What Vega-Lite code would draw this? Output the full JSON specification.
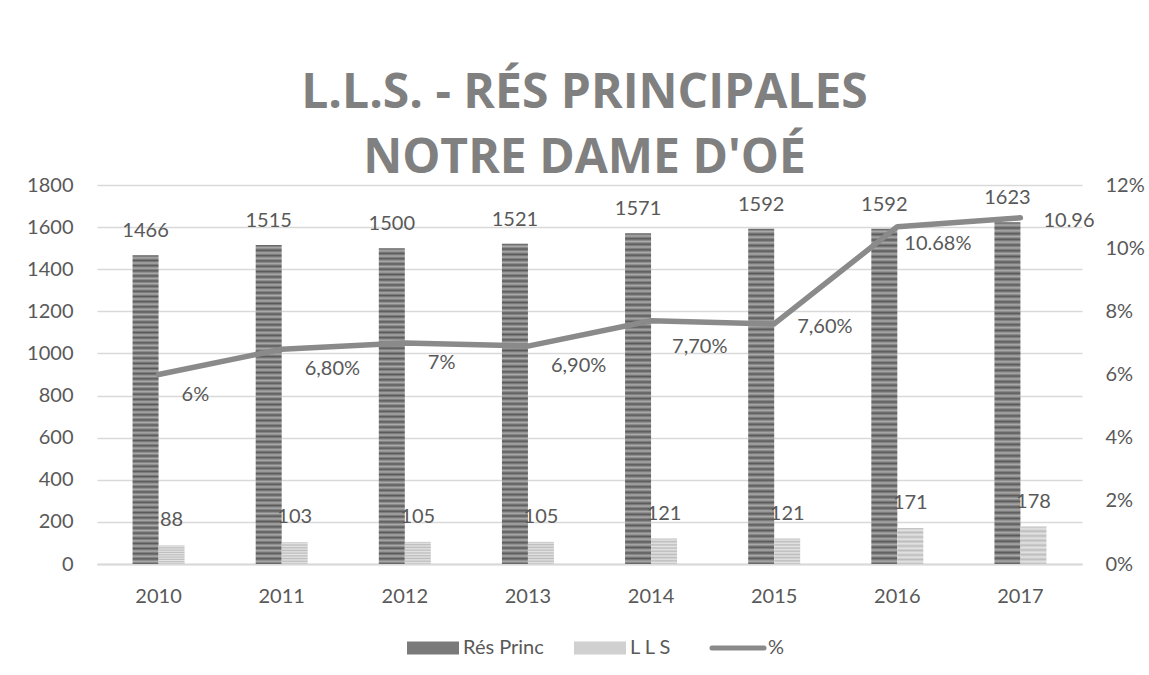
{
  "$schema": "https://vega.github.io/schema/vega-lite/v6.json",
  "width": 985,
  "height": 379,
  "autosize": {"type": "none"},
  "padding": {"left": 97, "top": 185, "right": 67, "bottom": 111},
  "config": {"view": {"stroke": null}, "font": "Lato"},
  "title": {
    "text": ["L.L.S. - RÉS PRINCIPALES", "NOTRE DAME D'OÉ"],
    "fontSize": 48, "font": "Open Sans", "fontWeight": "bold", "color": "#808080",
    "lineHeight": 65, "offset": -8, "anchor": "middle", "frame": "group", "dx": -5
  },
  "datasets": {
    "bars": [
      {"year": "2010", "series": "Rés Princ", "value": 1466},
      {"year": "2011", "series": "Rés Princ", "value": 1515},
      {"year": "2012", "series": "Rés Princ", "value": 1500},
      {"year": "2013", "series": "Rés Princ", "value": 1521},
      {"year": "2014", "series": "Rés Princ", "value": 1571},
      {"year": "2015", "series": "Rés Princ", "value": 1592},
      {"year": "2016", "series": "Rés Princ", "value": 1592},
      {"year": "2017", "series": "Rés Princ", "value": 1623},
      {"year": "2010", "series": "L L S", "value": 88},
      {"year": "2011", "series": "L L S", "value": 103},
      {"year": "2012", "series": "L L S", "value": 105},
      {"year": "2013", "series": "L L S", "value": 105},
      {"year": "2014", "series": "L L S", "value": 121},
      {"year": "2015", "series": "L L S", "value": 121},
      {"year": "2016", "series": "L L S", "value": 171},
      {"year": "2017", "series": "L L S", "value": 178}
    ],
    "pct": [
      {"year": "2010", "pct": 6, "label": "6%"},
      {"year": "2011", "pct": 6.8, "label": "6,80%"},
      {"year": "2012", "pct": 7, "label": "7%"},
      {"year": "2013", "pct": 6.9, "label": "6,90%"},
      {"year": "2014", "pct": 7.7, "label": "7,70%"},
      {"year": "2015", "pct": 7.6, "label": "7,60%"},
      {"year": "2016", "pct": 10.68, "label": "10.68%"},
      {"year": "2017", "pct": 10.96, "label": "10.96"}
    ]
  },
  "encoding": {
    "x": {
      "field": "year", "type": "nominal",
      "scale": {"paddingInner": 0, "paddingOuter": 0},
      "axis": {
        "title": null, "labelAngle": 0, "ticks": false, "grid": false,
        "domain": true, "domainColor": "#d9d9d9", "domainWidth": 2,
        "labelPadding": 22, "labelFontSize": 20, "labelFont": "Lato", "labelColor": "#595959"
      }
    }
  },
  "layer": [
    {
      "data": {"name": "bars"},
      "encoding": {
        "y": {
          "field": "value", "type": "quantitative",
          "scale": {"domain": [0, 1800], "nice": false},
          "axis": {
            "title": null, "orient": "left", "values": [0,200,400,600,800,1000,1200,1400,1600,1800],
            "format": "d",
            "grid": true, "gridColor": "#d9d9d9", "gridWidth": 1.3, "domain": false, "ticks": false,
            "labelPadding": 24, "labelFontSize": 20, "labelFont": "Lato", "labelColor": "#595959"
          }
        }
      },
      "layer": [
        {
          "mark": {"type": "bar", "width": 26, "opacity": 0},
          "encoding": {
            "color": {
              "field": "series", "type": "nominal",
              "scale": {
                "domain": ["Rés Princ", "L L S", "%"],
                "range": ["#7a7a7a", "#d0d0d0", "#8a8a8a"]
              },
              "legend": {
                "title": null, "orient": "none", "direction": "horizontal",
                "legendX": 326, "legendY": 453,
                "symbolSize": 2704, "labelFontSize": 20, "labelFont": "Lato", "labelColor": "#595959",
                "labelOffset": 20, "columnPadding": 30,
                "encode": {
                  "symbols": {
                    "update": {
                      "shape": {"signal": "datum.value === '%' ? 'stroke' : 'M-1,-0.25H1V0.25H-1Z'"},
                      "fill": {"signal": "datum.value === '%' ? 'transparent' : scale('color', datum.value)"},
                      "stroke": {"signal": "datum.value === '%' ? '#8a8a8a' : 'transparent'"},
                      "strokeWidth": {"signal": "datum.value === '%' ? 5 : 0"},
                      "strokeCap": {"value": "round"},
                      "opacity": {"value": 1}
                    }
                  }
                }
              }
            }
          }
        },
        {
          "transform": [{"filter": "datum.series === 'Rés Princ'"}],
          "mark": {"type": "bar", "width": 26, "xOffset": -13, "fill": {"gradient": "linear", "x1": 0, "y1": 0, "x2": 0, "y2": 1, "stops": [
                    {"offset": 0, "color": "#595959"}, {"offset": 0.0083, "color": "#ababab"}, {"offset": 0.0167, "color": "#595959"}, {"offset": 0.025, "color": "#ababab"}, {"offset": 0.0333, "color": "#595959"}, {"offset": 0.0417, "color": "#ababab"}, {"offset": 0.05, "color": "#595959"}, {"offset": 0.0583, "color": "#ababab"}, {"offset": 0.0667, "color": "#595959"}, {"offset": 0.075, "color": "#ababab"}, {"offset": 0.0833, "color": "#595959"}, {"offset": 0.0917, "color": "#ababab"},
                    {"offset": 0.1, "color": "#595959"}, {"offset": 0.1083, "color": "#ababab"}, {"offset": 0.1167, "color": "#595959"}, {"offset": 0.125, "color": "#ababab"}, {"offset": 0.1333, "color": "#595959"}, {"offset": 0.1417, "color": "#ababab"}, {"offset": 0.15, "color": "#595959"}, {"offset": 0.1583, "color": "#ababab"}, {"offset": 0.1667, "color": "#595959"}, {"offset": 0.175, "color": "#ababab"}, {"offset": 0.1833, "color": "#595959"}, {"offset": 0.1917, "color": "#ababab"},
                    {"offset": 0.2, "color": "#595959"}, {"offset": 0.2083, "color": "#ababab"}, {"offset": 0.2167, "color": "#595959"}, {"offset": 0.225, "color": "#ababab"}, {"offset": 0.2333, "color": "#595959"}, {"offset": 0.2417, "color": "#ababab"}, {"offset": 0.25, "color": "#595959"}, {"offset": 0.2583, "color": "#ababab"}, {"offset": 0.2667, "color": "#595959"}, {"offset": 0.275, "color": "#ababab"}, {"offset": 0.2833, "color": "#595959"}, {"offset": 0.2917, "color": "#ababab"},
                    {"offset": 0.3, "color": "#595959"}, {"offset": 0.3083, "color": "#ababab"}, {"offset": 0.3167, "color": "#595959"}, {"offset": 0.325, "color": "#ababab"}, {"offset": 0.3333, "color": "#595959"}, {"offset": 0.3417, "color": "#ababab"}, {"offset": 0.35, "color": "#595959"}, {"offset": 0.3583, "color": "#ababab"}, {"offset": 0.3667, "color": "#595959"}, {"offset": 0.375, "color": "#ababab"}, {"offset": 0.3833, "color": "#595959"}, {"offset": 0.3917, "color": "#ababab"},
                    {"offset": 0.4, "color": "#595959"}, {"offset": 0.4083, "color": "#ababab"}, {"offset": 0.4167, "color": "#595959"}, {"offset": 0.425, "color": "#ababab"}, {"offset": 0.4333, "color": "#595959"}, {"offset": 0.4417, "color": "#ababab"}, {"offset": 0.45, "color": "#595959"}, {"offset": 0.4583, "color": "#ababab"}, {"offset": 0.4667, "color": "#595959"}, {"offset": 0.475, "color": "#ababab"}, {"offset": 0.4833, "color": "#595959"}, {"offset": 0.4917, "color": "#ababab"},
                    {"offset": 0.5, "color": "#595959"}, {"offset": 0.5083, "color": "#ababab"}, {"offset": 0.5167, "color": "#595959"}, {"offset": 0.525, "color": "#ababab"}, {"offset": 0.5333, "color": "#595959"}, {"offset": 0.5417, "color": "#ababab"}, {"offset": 0.55, "color": "#595959"}, {"offset": 0.5583, "color": "#ababab"}, {"offset": 0.5667, "color": "#595959"}, {"offset": 0.575, "color": "#ababab"}, {"offset": 0.5833, "color": "#595959"}, {"offset": 0.5917, "color": "#ababab"},
                    {"offset": 0.6, "color": "#595959"}, {"offset": 0.6083, "color": "#ababab"}, {"offset": 0.6167, "color": "#595959"}, {"offset": 0.625, "color": "#ababab"}, {"offset": 0.6333, "color": "#595959"}, {"offset": 0.6417, "color": "#ababab"}, {"offset": 0.65, "color": "#595959"}, {"offset": 0.6583, "color": "#ababab"}, {"offset": 0.6667, "color": "#595959"}, {"offset": 0.675, "color": "#ababab"}, {"offset": 0.6833, "color": "#595959"}, {"offset": 0.6917, "color": "#ababab"},
                    {"offset": 0.7, "color": "#595959"}, {"offset": 0.7083, "color": "#ababab"}, {"offset": 0.7167, "color": "#595959"}, {"offset": 0.725, "color": "#ababab"}, {"offset": 0.7333, "color": "#595959"}, {"offset": 0.7417, "color": "#ababab"}, {"offset": 0.75, "color": "#595959"}, {"offset": 0.7583, "color": "#ababab"}, {"offset": 0.7667, "color": "#595959"}, {"offset": 0.775, "color": "#ababab"}, {"offset": 0.7833, "color": "#595959"}, {"offset": 0.7917, "color": "#ababab"},
                    {"offset": 0.8, "color": "#595959"}, {"offset": 0.8083, "color": "#ababab"}, {"offset": 0.8167, "color": "#595959"}, {"offset": 0.825, "color": "#ababab"}, {"offset": 0.8333, "color": "#595959"}, {"offset": 0.8417, "color": "#ababab"}, {"offset": 0.85, "color": "#595959"}, {"offset": 0.8583, "color": "#ababab"}, {"offset": 0.8667, "color": "#595959"}, {"offset": 0.875, "color": "#ababab"}, {"offset": 0.8833, "color": "#595959"}, {"offset": 0.8917, "color": "#ababab"},
                    {"offset": 0.9, "color": "#595959"}, {"offset": 0.9083, "color": "#ababab"}, {"offset": 0.9167, "color": "#595959"}, {"offset": 0.925, "color": "#ababab"}, {"offset": 0.9333, "color": "#595959"}, {"offset": 0.9417, "color": "#ababab"}, {"offset": 0.95, "color": "#595959"}, {"offset": 0.9583, "color": "#ababab"}, {"offset": 0.9667, "color": "#595959"}, {"offset": 0.975, "color": "#ababab"}, {"offset": 0.9833, "color": "#595959"}, {"offset": 0.9917, "color": "#ababab"},
                    {"offset": 1, "color": "#595959"}
                  ]}},
          "encoding": {}
        },
        {
          "transform": [{"filter": "datum.series === 'L L S'"}],
          "mark": {"type": "bar", "width": 26, "xOffset": 13, "fill": {"gradient": "linear", "x1": 0, "y1": 0, "x2": 0, "y2": 1, "stops": [
                    {"offset": 0, "color": "#bcbcbc"}, {"offset": 0.0625, "color": "#e4e4e4"}, {"offset": 0.125, "color": "#bcbcbc"}, {"offset": 0.1875, "color": "#e4e4e4"},
                    {"offset": 0.25, "color": "#bcbcbc"}, {"offset": 0.3125, "color": "#e4e4e4"}, {"offset": 0.375, "color": "#bcbcbc"}, {"offset": 0.4375, "color": "#e4e4e4"},
                    {"offset": 0.5, "color": "#bcbcbc"}, {"offset": 0.5625, "color": "#e4e4e4"}, {"offset": 0.625, "color": "#bcbcbc"}, {"offset": 0.6875, "color": "#e4e4e4"},
                    {"offset": 0.75, "color": "#bcbcbc"}, {"offset": 0.8125, "color": "#e4e4e4"}, {"offset": 0.875, "color": "#bcbcbc"}, {"offset": 0.9375, "color": "#e4e4e4"},
                    {"offset": 1, "color": "#bcbcbc"}
                  ]}},
          "encoding": {}
        },
        {
          "transform": [{"filter": "datum.series === 'Rés Princ'"}],
          "mark": {"type": "text", "dy": -24, "dx": -13, "baseline": "middle", "fontSize": 20, "font": "Lato", "color": "#595959"},
          "encoding": {"text": {"field": "value", "type": "quantitative"}}
        },
        {
          "transform": [{"filter": "datum.series === 'L L S'"}],
          "mark": {"type": "text", "dy": -25, "dx": 13, "baseline": "middle", "fontSize": 20, "font": "Lato", "color": "#595959"},
          "encoding": {"text": {"field": "value", "type": "quantitative"}}
        }
      ]
    },
    {
      "data": {"name": "pct"},
      "encoding": {
        "y": {
          "field": "pct", "type": "quantitative",
          "scale": {"domain": [0, 12], "nice": false},
          "axis": {
            "title": null, "orient": "right", "values": [0,2,4,6,8,10,12],
            "labelExpr": "datum.value + '%'", "grid": false, "domain": false, "ticks": false,
            "labelPadding": 23, "labelFontSize": 20, "labelFont": "Lato", "labelColor": "#595959"
          }
        }
      },
      "layer": [
        {
          "mark": {"type": "line", "strokeWidth": 5.5, "strokeJoin": "round", "strokeCap": "round"},
          "encoding": {"color": {"datum": "%"}}
        },
        {
          "transform": [{"filter": "indexof(['2010','2011','2012','2013'], datum.year) >= 0"}],
          "mark": {"type": "text", "align": "left", "baseline": "middle", "dx": 23, "dy": 20, "fontSize": 20, "font": "Lato", "color": "#595959"},
          "encoding": {"text": {"field": "label"}}
        },
        {
          "transform": [{"filter": "datum.year === '2014'"}],
          "mark": {"type": "text", "align": "left", "baseline": "middle", "dx": 21, "dy": 26, "fontSize": 20, "font": "Lato", "color": "#595959"},
          "encoding": {"text": {"field": "label"}}
        },
        {
          "transform": [{"filter": "datum.year === '2015' || datum.year === '2017'"}],
          "mark": {"type": "text", "align": "left", "baseline": "middle", "dx": 23, "dy": 3, "fontSize": 20, "font": "Lato", "color": "#595959"},
          "encoding": {"text": {"field": "label"}}
        },
        {
          "transform": [{"filter": "datum.year === '2016'"}],
          "mark": {"type": "text", "align": "left", "baseline": "middle", "dx": 7, "dy": 17, "fontSize": 20, "font": "Lato", "color": "#595959"},
          "encoding": {"text": {"field": "label"}}
        }
      ]
    }
  ],
  "resolve": {"scale": {"y": "independent"}}
}
